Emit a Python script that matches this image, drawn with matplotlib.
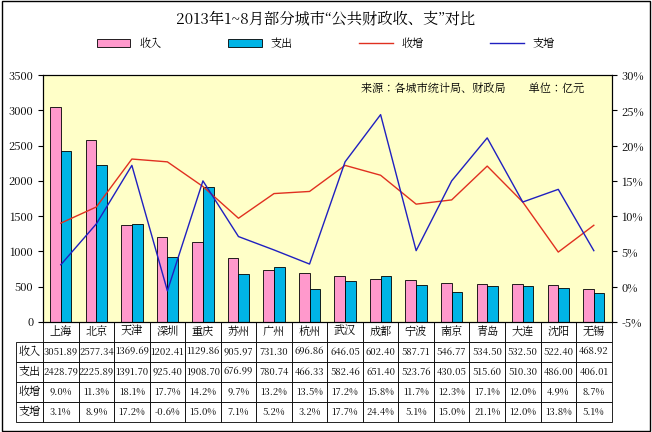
import matplotlib
matplotlib.use("Agg")
import matplotlib.pyplot as plt
from matplotlib import font_manager
from matplotlib.patches import Rectangle
import numpy as np

cjk = [f.name for f in font_manager.fontManager.ttflist if 'CJK' in f.name]
fam = 'Noto Sans CJK SC' if 'Noto Sans CJK SC' in cjk else (cjk[0] if cjk else 'DejaVu Sans')
plt.rcParams['font.family'] = [fam, 'DejaVu Sans']
plt.rcParams['font.sans-serif'] = [fam, 'DejaVu Sans']

cities = ["上海","北京","天津","深圳","重庆","苏州","广州","杭州","武汉","成都","宁波","南京","青岛","大连","沈阳","无锡"]
income = [3051.89,2577.34,1369.69,1202.41,1129.86,905.97,731.30,696.86,646.05,602.40,587.71,546.77,534.50,532.50,522.40,468.92]
spend = [2428.79,2225.89,1391.70,925.40,1908.70,676.99,780.74,466.33,582.46,651.40,523.76,430.05,515.60,510.30,486.00,406.01]
inc_g = [9.0,11.3,18.1,17.7,14.2,9.7,13.2,13.5,17.2,15.8,11.7,12.3,17.1,12.0,4.9,8.7]
sp_g = [3.1,8.9,17.2,-0.6,15.0,7.1,5.2,3.2,17.7,24.4,5.1,15.0,21.1,12.0,13.8,5.1]

fig = plt.figure(figsize=(6.52,4.32), dpi=100)
fig.patches.append(Rectangle((0.003,0.003),0.994,0.994, transform=fig.transFigure,
                             fill=False, edgecolor='black', lw=1))
ax = fig.add_axes([0.066,0.255,0.872,0.571])
ax.set_facecolor('#FFFFC8')
x = np.arange(len(cities))
w = 0.3
ax.bar(x-w/2, income, w, color='#FF99CC', edgecolor='black', linewidth=0.6, label='收入')
ax.bar(x+w/2, spend, w, color='#00B4E6', edgecolor='black', linewidth=0.6, label='支出')
ax.set_xlim(-0.5, len(cities)-0.5)
ax.set_ylim(0,3500)
ax.set_yticks(range(0,3501,500))
ax.tick_params(labelsize=8)
ax.set_xticks([])
ax2 = ax.twinx()
ax2.plot(x, inc_g, color='#E03020', lw=1, label='收增')
ax2.plot(x, sp_g, color='#2020C0', lw=1, label='支增')
ax2.set_ylim(-5,30)
ax2.set_yticks(range(-5,31,5))
ax2.set_yticklabels([f"{v}%" for v in range(-5,31,5)])
ax2.tick_params(labelsize=8)

rows = [[f"{v:.2f}" for v in income],[f"{v:.2f}" for v in spend],
        [f"{v:.1f}%" for v in inc_g],[f"{v:.1f}%" for v in sp_g]]
tab = ax.table(cellText=rows, rowLabels=["收入","支出","收增","支增"], colLabels=cities,
               bbox=[0,-0.405,1,0.405], cellLoc='center', rowLoc='center')
tab.auto_set_font_size(False)
for (r,c),cell in tab.get_celld().items():
    cell.set_linewidth(0.6)
    cell.get_text().set_fontsize(6.8 if r>0 and c>=0 else 8)
    if r==0:
        cell.set_facecolor('white')

h1,l1 = ax.get_legend_handles_labels()
h2,l2 = ax2.get_legend_handles_labels()
fig.legend(h1+h2, l1+l2, loc='upper center', bbox_to_anchor=(0.5,0.935), ncol=4, frameon=False,
           fontsize=8, columnspacing=6, handlelength=3)
fig.text(0.5,0.955,"2013年1~8月部分城市“公共财政收、支”对比", ha='center', va='center', fontsize=11)
ax.text(0.56,0.93,"来源：各城市统计局、财政局        单位：亿元", transform=ax.transAxes, fontsize=8)
fig.savefig("out.png", dpi=100)
